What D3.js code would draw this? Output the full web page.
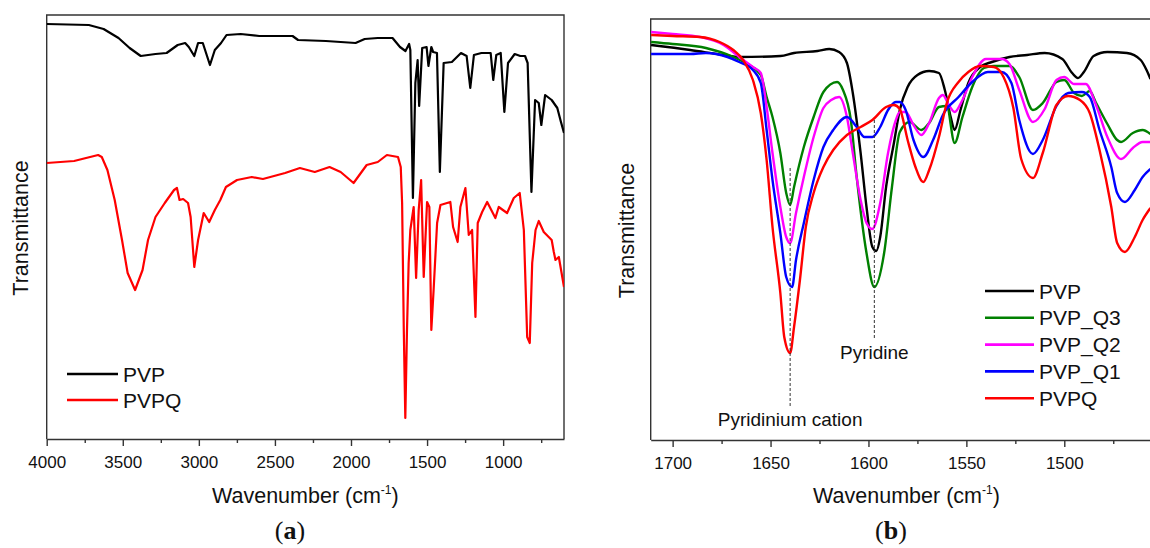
<!DOCTYPE html>
<html>
<head>
<meta charset="utf-8">
<script src="https://cdn.jsdelivr.net/npm/d3@7/dist/d3.min.js"></script>
<style>
    body { margin: 0; background: #fff; }
    svg { display: block; font-family: "Liberation Sans", Arial, sans-serif; }
</style>
</head>
<body>
<svg id="chart" width="1150" height="548"></svg>
<script>
// ---- data: [wavenumber cm-1, transmittance (a.u.)] ----

// (a) full range spectra
const pvpFull = [[4000,415],[3723,414],[3626,410],[3528,401],[3455,391],[3382,383],[3285,385],[3212,386],
    [3139,394],[3090,396],[3066,392],[3030,383],[3005,396],[2974,396],[2927,374],[2895,389],[2854,396],
    [2818,404],[2725,405],[2603,403],[2384,403],[2348,399],[2165,398],[1970,396],[1910,400],[1824,401],
    [1727,401],[1678,392],[1642,388],[1618,395],[1610,389],[1593,241],[1577,356],[1562,379],[1552,333],
    [1532,391],[1503,392],[1491,373],[1472,392],[1460,387],[1435,386],[1416,267],[1391,376],[1337,377],
    [1277,386],[1240,383],[1216,351],[1192,384],[1143,386],[1082,386],[1065,359],[1045,384],[1016,386],
    [992,327],[968,376],[924,385],[887,383],[856,383],[839,376],[814,247],[790,339],[766,336],[749,314],
    [724,344],[681,339],[644,331],[620,317],[600,306]]

const pvpqFull = [[4000,276],[3820,278],[3662,284],[3638,282],[3601,269],[3553,239],[3505,199],[3468,166],
    [3419,149],[3370,169],[3334,199],[3285,222],[3224,236],[3163,249],[3144,251],[3127,239],[3103,240],
    [3071,236],[3054,222],[3030,172],[3005,199],[2968,226],[2932,217],[2895,229],[2859,239],[2822,252],
    [2749,259],[2652,262],[2579,260],[2433,266],[2336,271],[2238,267],[2141,272],[2068,267],[1983,256],
    [1897,274],[1824,277],[1764,284],[1691,282],[1673,272],[1664,236],[1653,109],[1643,21],[1632,109],
    [1621,176],[1610,209],[1588,232],[1572,161],[1555,229],[1539,259],[1522,162],[1500,237],[1485,232],
    [1472,109],[1457,149],[1434,216],[1412,234],[1347,237],[1329,212],[1299,197],[1281,232],[1248,251],
    [1226,204],[1204,209],[1182,122],[1167,216],[1138,227],[1105,237],[1051,221],[1029,232],[974,226],
    [930,241],[891,246],[864,209],[842,102],[825,96],[809,176],[787,209],[766,218],[733,207],[681,199],
    [667,187],[656,179],[634,182],[600,152]]

// (b) 1710-1450 cm-1 detail
const pvpZoom = [[1711,395],[1691,390],[1674,385],[1666,383],[1645,384],[1638,387],[1626,389],[1620,391],
    [1615,388],[1611,377],[1608,347],[1604,287],[1601,233],[1598,193],[1596,189],[1594,203],[1591,253],
    [1587,297],[1584,330],[1580,353],[1575,365],[1569,369],[1564,367],[1561,350],[1558,323],[1556,310],
    [1553,330],[1549,357],[1543,373],[1537,378],[1528,383],[1519,385],[1510,387],[1501,381],[1496,367],
    [1493,362],[1490,368],[1485,384],[1478,388],[1468,387],[1461,380],[1458,370],[1456,361]]

const q3Zoom = [[1711,398],[1700,396],[1683,392],[1669,383],[1661,375],[1655,365],[1652,343],[1649,323],
    [1645,287],[1642,247],[1640,235],[1638,253],[1633,293],[1628,323],[1623,348],[1616,358],[1613,350],
    [1609,320],[1606,263],[1601,187],[1597,153],[1592,187],[1588,253],[1584,308],[1579,318],[1573,310],
    [1569,317],[1564,333],[1560,334],[1556,297],[1552,323],[1547,353],[1541,372],[1536,374],[1528,374],
    [1523,363],[1516,330],[1511,337],[1504,358],[1500,360],[1495,347],[1491,344],[1487,349],[1484,338],
    [1478,316],[1473,300],[1471,298],[1465,307],[1460,310],[1456,306]]

const q2Zoom = [[1711,408],[1700,406],[1686,403],[1674,395],[1666,383],[1659,373],[1655,367],[1652,333],
    [1649,287],[1645,233],[1642,203],[1640,197],[1637,227],[1633,263],[1628,303],[1623,332],[1619,340],
    [1615,343],[1611,323],[1608,287],[1604,240],[1601,217],[1598,211],[1594,237],[1590,287],[1586,320],
    [1584,328],[1581,328],[1577,315],[1573,305],[1569,317],[1564,342],[1562,345],[1559,335],[1556,328],
    [1552,340],[1547,363],[1540,381],[1532,381],[1528,376],[1523,350],[1516,318],[1510,331],[1504,360],
    [1500,363],[1495,356],[1489,356],[1484,336],[1478,303],[1471,281],[1465,292],[1460,298],[1456,298]]

const q1Zoom = [[1711,386],[1691,386],[1683,387],[1672,383],[1666,378],[1659,370],[1655,357],[1652,310],
    [1649,260],[1645,207],[1642,163],[1639,153],[1637,180],[1633,217],[1628,260],[1623,293],[1618,310],
    [1611,323],[1606,313],[1602,303],[1598,303],[1594,313],[1590,330],[1586,338],[1584,338],[1581,330],
    [1577,300],[1572,283],[1567,300],[1562,325],[1554,343],[1547,358],[1539,368],[1532,368],[1527,357],
    [1523,320],[1516,286],[1511,300],[1504,334],[1498,347],[1491,348],[1487,343],[1482,310],[1476,273],
    [1473,247],[1469,238],[1464,250],[1460,263],[1456,271]]

const pvpqZoom = [[1711,405],[1700,404],[1686,403],[1676,398],[1669,390],[1664,380],[1659,360],[1655,327],
    [1652,280],[1649,213],[1645,147],[1643,103],[1640,87],[1638,113],[1635,160],[1632,213],[1628,247],
    [1623,273],[1618,290],[1611,305],[1604,313],[1598,320],[1591,333],[1587,335],[1584,331],[1580,300],
    [1576,273],[1572,258],[1569,270],[1564,303],[1560,337],[1554,358],[1549,368],[1543,374],[1536,373],
    [1531,363],[1526,332],[1522,281],[1516,262],[1511,287],[1504,335],[1498,344],[1492,340],[1487,327],
    [1482,290],[1476,233],[1473,197],[1469,188],[1464,203],[1460,220],[1456,232]]

const ticksA = [4000, 3500, 3000, 2500, 2000, 1500, 1000]
const minorTicksA = [3750, 3250, 2750, 2250, 1750, 1250, 750]
const ticksB = [1700, 1650, 1600, 1550, 1500]
const minorTicksB = [1675, 1625, 1575, 1525, 1475]

const namesA = ['PVP', 'PVPQ']
const namesB = ['PVP', 'PVP_Q3', 'PVP_Q2', 'PVP_Q1', 'PVPQ']
const peakMarks = [{label: 'Pyridinium cation', wn: 1640}, {label: 'Pyridine', wn: 1597}]

// ---- styles ----
const colors = {PVP: '#000000', PVP_Q3: '#008000', PVP_Q2: '#ff00ff', PVP_Q1: '#0000ff', PVPQ: '#ff0000'}
const frameColor = '#333'
const sans = '"Liberation Sans", Arial, sans-serif'

const svg = d3.select('#chart')
const defs = svg.append('defs')

function drawPanel(cfg) {
    const x = d3.scaleLinear().domain(cfg.xDomain).range([cfg.left, cfg.right])
    const y = d3.scaleLinear().domain([0, cfg.yMax]).range([cfg.bottom, cfg.top])
    const g = svg.append('g')

    defs.append('clipPath').attr('id', 'clip-' + cfg.id)
        .append('rect')
        .attr('x', cfg.left).attr('y', cfg.top)
        .attr('width', cfg.right - cfg.left).attr('height', cfg.bottom - cfg.top)

    // frame (panel b runs off the right edge of the page)
    g.append('path')
        .attr('d', cfg.closed
            ? `M${cfg.left},${cfg.bottom}V${cfg.top}H${cfg.right}V${cfg.bottom}`
            : `M${cfg.left},${cfg.bottom}V${cfg.top}H${cfg.right}`)
        .attr('fill', 'none').attr('stroke', frameColor).attr('stroke-width', 1.4)

    // major + minor ticks on the bottom axis
    g.append('g')
        .attr('transform', `translate(0,${cfg.bottom})`)
        .call(d3.axisBottom(x).tickValues(cfg.ticks).tickSize(7).tickPadding(10)
            .tickSizeOuter(0).tickFormat(d3.format('d')))
        .call(a => a.select('.domain').attr('stroke', frameColor).attr('stroke-width', 1.4))
        .call(a => a.selectAll('.tick line').attr('stroke', frameColor).attr('stroke-width', 1.4))
        .call(a => a.selectAll('.tick text').attr('font-size', 17).attr('font-family', sans).attr('fill', '#111'))
    g.append('g')
        .attr('transform', `translate(0,${cfg.bottom})`)
        .call(d3.axisBottom(x).tickValues(cfg.minorTicks).tickSize(4).tickFormat(''))
        .call(a => a.select('.domain').remove())
        .call(a => a.selectAll('.tick line').attr('stroke', frameColor).attr('stroke-width', 1.4))

    // axis titles
    const cx = (cfg.left + cfg.right) / 2
    const xt = g.append('text')
        .attr('x', cx).attr('y', 503)
        .attr('text-anchor', 'middle').attr('font-size', 21.5).attr('fill', '#111')
    xt.append('tspan').text('Wavenumber (cm')
    xt.append('tspan').attr('dy', -9).attr('font-size', 12).text('-1')
    xt.append('tspan').attr('dy', 9).text(')')

    g.append('text')
        .attr('transform', `translate(${cfg.yTitleX},${(cfg.top + cfg.bottom) / 2 + 1}) rotate(-90)`)
        .attr('text-anchor', 'middle').attr('font-size', 21.5).attr('fill', '#111')
        .text('Transmittance')

    // caption (a)/(b)
    const cap = g.append('text')
        .attr('x', cfg.captionX).attr('y', 539)
        .attr('text-anchor', 'middle')
        .attr('font-family', '"Liberation Serif", "Times New Roman", serif')
        .attr('font-size', 26).attr('fill', '#111')
    cap.append('tspan').text('(')
    cap.append('tspan').attr('font-weight', 'bold').text(cfg.id)
    cap.append('tspan').text(')')

    // spectra
    const line = d3.line().x(d => x(d[0])).y(d => y(d[1])).curve(cfg.curve)
    g.append('g').attr('clip-path', `url(#clip-${cfg.id})`)
        .selectAll('path')
        .data(cfg.series)
        .join('path')
        .attr('d', d => line(d.values))
        .attr('fill', 'none')
        .attr('stroke', d => colors[d.name])
        .attr('stroke-width', cfg.lineWidth)
        .attr('stroke-linejoin', 'round')

    // legend
    const leg = g.selectAll('.legend')
        .data(cfg.legendOrder)
        .join('g')
        .attr('class', 'legend')
        .attr('transform', (d, i) => `translate(${cfg.legend.x},${cfg.legend.y + i * cfg.legend.step})`)
    leg.append('line')
        .attr('x1', 0).attr('x2', cfg.legend.len)
        .attr('stroke', d => colors[d]).attr('stroke-width', 2.6)
    leg.append('text')
        .attr('x', cfg.legend.len + 5).attr('y', 7.5)
        .attr('font-size', 21).attr('fill', '#111')
        .text(d => d)

    return {x, y, g}
}

drawPanel({
    id: 'a', left: 46.7, right: 564, top: 15, bottom: 439,
    xDomain: [4000, 600], yMax: 424,
    ticks: ticksA, minorTicks: minorTicksA,
    closed: true, yTitleX: 28, captionX: 290,
    curve: d3.curveLinear, lineWidth: 2.2,
    series: [{name: 'PVP', values: pvpFull}, {name: 'PVPQ', values: pvpqFull}],
    legendOrder: namesA,
    legend: {x: 67, y: 374, step: 26, len: 51}
})

const b = drawPanel({
    id: 'b', left: 650.7, right: 1162.2, top: 19, bottom: 440,
    xDomain: [1711.2, 1450], yMax: 421,
    ticks: ticksB, minorTicks: minorTicksB,
    closed: false, yTitleX: 634, captionX: 891,
    curve: d3.curveMonotoneX, lineWidth: 2.4,
    series: [
        {name: 'PVP', values: pvpZoom},
        {name: 'PVP_Q3', values: q3Zoom},
        {name: 'PVP_Q2', values: q2Zoom},
        {name: 'PVP_Q1', values: q1Zoom},
        {name: 'PVPQ', values: pvpqZoom}
    ],
    legendOrder: namesB,
    legend: {x: 985, y: 291, step: 26.8, len: 49}
})

// peak markers in (b): dashed drop lines + labels (y in the same a.u. as the spectra)
const markY = {'Pyridinium cation': {top: 272, bottom: 32, text: 14}, 'Pyridine': {top: 320, bottom: 102, text: 81}}
const marks = b.g.selectAll('.peak').data(peakMarks).join('g').attr('class', 'peak')
marks.append('line')
    .attr('x1', d => b.x(d.wn)).attr('x2', d => b.x(d.wn))
    .attr('y1', d => b.y(markY[d.label].top)).attr('y2', d => b.y(markY[d.label].bottom))
    .attr('stroke', '#333').attr('stroke-width', 1).attr('stroke-dasharray', '3,2')
marks.append('text')
    .attr('x', d => b.x(d.wn)).attr('y', d => b.y(markY[d.label].text))
    .attr('text-anchor', 'middle').attr('font-size', 19).attr('fill', '#111')
    .text(d => d.label)
</script>
</body>
</html>
